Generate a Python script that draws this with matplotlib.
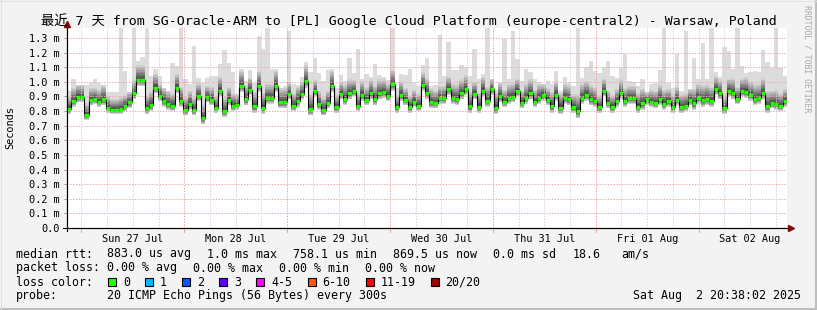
import matplotlib
matplotlib.use('Agg')
import matplotlib.pyplot as plt
from matplotlib.lines import Line2D
from matplotlib.patches import Rectangle
import numpy as np

plt.rcParams['font.family'] = ['DejaVu Sans Mono', 'Noto Sans CJK SC']

# median rtt per hour step (ms)
rtt_median = [
    0.814, 0.868, 0.898, 0.898, 0.773, 0.875, 0.882, 0.864, 0.88, 0.823, 0.81, 0.81, 0.814, 0.832,
    0.86, 0.92, 1.013, 1.013, 0.818, 0.84, 0.96, 0.905, 0.868, 0.848, 0.836, 0.96, 0.87, 0.807,
    0.848, 0.807, 0.905, 0.75, 0.893, 0.877, 0.823, 0.94, 0.80, 0.877, 0.836, 0.843, 0.973, 0.88,
    0.945, 0.832, 0.973, 0.823, 0.89, 0.89, 0.973, 0.86, 0.86, 0.915, 0.836, 0.87, 0.915, 1.005,
    0.814, 0.934, 0.848, 0.807, 0.855, 0.973, 0.825, 0.915, 0.882, 0.92, 0.934, 0.836, 0.91, 0.877,
    0.92, 0.88, 0.92, 0.927, 0.905, 0.982, 0.825, 0.91, 0.875, 0.825, 0.864, 0.836, 0.977, 0.923,
    0.86, 0.855, 0.886, 0.886, 0.948, 0.89, 0.882, 0.92, 0.95, 0.832, 0.915, 0.83, 0.94, 0.87,
    0.948, 0.823, 0.9, 0.864, 0.89, 0.898, 0.936, 0.855, 0.89, 0.92, 0.864, 0.89, 0.91, 0.875,
    0.832, 0.91, 0.823, 0.89, 0.88, 0.827, 0.798, 0.89, 0.91, 0.88, 0.868, 0.825, 0.936, 0.855,
    0.825, 0.866, 0.92, 0.868, 0.886, 0.886, 0.83, 0.852, 0.88, 0.864, 0.855, 0.882, 0.85, 0.866,
    0.827, 0.877, 0.827, 0.836, 0.875, 0.852, 0.89, 0.873, 0.882, 0.87, 0.948, 0.92, 0.818, 0.936,
    0.923, 0.884, 0.936, 0.932, 0.91, 0.882, 0.89, 0.923, 0.834, 0.855, 0.85, 0.836, 0.866,
]
# highest ping per step (ms)
rtt_max = [
    0.94, 1.02, 0.98, 0.98, 0.98, 0.995, 1.02, 0.99, 0.98, 0.93, 0.93, 0.93, 1.37, 1.075,
    0.93, 1.37, 1.14, 1.17, 1.37, 1.04, 1.09, 1.04, 0.96, 0.94, 1.13, 1.11, 1.37, 1.02,
    0.984, 1.245, 1.023, 0.995, 1.023, 1.041, 1.041, 1.12, 1.218, 1.132, 1.068, 0.916, 1.086, 1.007,
    1.082, 0.995, 1.314, 1.223, 1.37, 1.086, 1.086, 0.955, 0.973, 1.35, 0.984, 0.977, 1.03, 1.136,
    1.064, 1.161, 1.059, 1.007, 1.082, 1.086, 0.961, 1.045, 1.007, 1.166, 1.059, 1.223, 1.018, 1.052,
    1.036, 1.125, 1.048, 1.034, 1.011, 1.37, 0.961, 1.052, 1.048, 1.086, 0.995, 0.973, 1.114, 1.166,
    0.973, 0.977, 1.318, 1.041, 1.275, 1.08, 1.08, 1.114, 1.098, 1.041, 1.223, 1.018, 1.052, 1.37,
    1.018, 0.945, 0.995, 1.295, 1.018, 1.35, 1.155, 1.007, 1.086, 1.064, 1.018, 1.0, 0.984, 1.007,
    0.984, 1.075, 0.939, 1.03, 0.995, 0.973, 1.37, 1.023, 1.098, 1.143, 1.075, 1.059, 1.098, 1.139,
    1.041, 1.025, 1.091, 1.189, 1.007, 1.0, 0.973, 1.018, 0.927, 0.984, 0.995, 1.082, 1.37, 0.995,
    0.961, 1.189, 0.939, 1.35, 0.95, 1.166, 1.018, 1.268, 1.018, 1.37, 1.068, 1.03, 1.239, 1.211,
    1.086, 1.37, 1.109, 1.059, 1.068, 1.075, 1.064, 1.218, 1.136, 1.091, 1.37, 1.091, 1.041,
]
# lowest ping per step (ms)
rtt_min = [
    0.78, 0.83, 0.86, 0.86, 0.74, 0.84, 0.85, 0.83, 0.84, 0.79, 0.78, 0.78, 0.78, 0.80,
    0.82, 0.88, 0.97, 0.97, 0.78, 0.80, 0.92, 0.87, 0.83, 0.81, 0.80, 0.92, 0.83, 0.77,
    0.81, 0.77, 0.87, 0.71, 0.86, 0.84, 0.79, 0.90, 0.76, 0.84, 0.80, 0.81, 0.93, 0.84,
    0.91, 0.79, 0.93, 0.78, 0.85, 0.85, 0.93, 0.82, 0.82, 0.88, 0.80, 0.83, 0.88, 0.96,
    0.77, 0.90, 0.81, 0.77, 0.82, 0.93, 0.79, 0.88, 0.84, 0.88, 0.90, 0.80, 0.87, 0.84,
    0.88, 0.84, 0.88, 0.89, 0.87, 0.94, 0.79, 0.87, 0.84, 0.79, 0.83, 0.80, 0.94, 0.88,
    0.82, 0.82, 0.85, 0.85, 0.91, 0.85, 0.84, 0.88, 0.91, 0.79, 0.88, 0.79, 0.90, 0.83,
    0.91, 0.78, 0.86, 0.83, 0.85, 0.86, 0.90, 0.82, 0.85, 0.88, 0.83, 0.85, 0.87, 0.84,
    0.79, 0.87, 0.78, 0.85, 0.84, 0.79, 0.75, 0.85, 0.87, 0.84, 0.83, 0.79, 0.90, 0.82,
    0.79, 0.83, 0.88, 0.83, 0.85, 0.85, 0.79, 0.81, 0.84, 0.83, 0.82, 0.84, 0.81, 0.83,
    0.79, 0.84, 0.79, 0.80, 0.84, 0.81, 0.85, 0.83, 0.84, 0.83, 0.91, 0.88, 0.78, 0.90,
    0.88, 0.85, 0.90, 0.89, 0.87, 0.84, 0.85, 0.88, 0.79, 0.82, 0.81, 0.80, 0.83,
]

day_labels = ['Sun 27 Jul', 'Mon 28 Jul', 'Tue 29 Jul', 'Wed 30 Jul', 'Thu 31 Jul', 'Fri 01 Aug', 'Sat 02 Aug']
first_midnight = 3.366  # hours after graph start (Sat 26 Jul 20:38)
span_hours = 168
y_ticks = [0.0, 0.1, 0.2, 0.3, 0.4, 0.5, 0.6, 0.7, 0.8, 0.9, 1.0, 1.1, 1.2, 1.3]

loss_labels = ['0', '1', '2', '3', '4-5', '6-10', '11-19', '20/20']
loss_colors = ['#26ff00', '#00b8ff', '#0059ff', '#5e00ff', '#ff00ff', '#ff5500', '#ff0000', '#a10000']

W, H = 817, 310
def fx(x):
    return x / W
def fy(y):
    return 1 - y / H

fig = plt.figure(figsize=(W / 100, H / 100), dpi=100, facecolor='#f3f3f3')
ax = fig.add_axes([fx(67), fy(228), (787 - 67) / W, 200 / H])
ax.set_facecolor('white')

med = np.array(rtt_median)
hi = np.array(rtt_max)
lo = np.array(rtt_min)
n = min(len(med), len(hi), len(lo))
med, hi, lo = med[:n], hi[:n], lo[:n]
x = np.linspace(0, span_hours, n + 1)
ext = lambda a: np.append(a, a[-1])

# smoke
ax.fill_between(x, ext(lo), ext(hi), step='post', color='#dcdcdc', lw=0, zorder=1)
d_lo = med - lo
d_up = np.minimum(hi - med, 2.4 * d_lo)
nl = 10
for k in range(nl):
    f = (1 - k / nl) ** 1.15
    g = int(208 - k * (150 / (nl - 1)))
    c = '#%02x%02x%02x' % (g, g, g)
    ax.fill_between(x, ext(med - f * d_lo), ext(med + f * d_up), step='post', color=c, lw=0, zorder=1.5)

# grid
for v in y_ticks[1:]:
    ax.axhline(v, color='#f0a8a8', lw=0.72, ls=(0, (1.4, 1.4)), zorder=3)
for h in np.arange(first_midnight - 24, span_hours, 6):
    if h <= 0:
        continue
    major = abs((h - first_midnight) % 24) < 1e-6
    ax.axvline(h, color='#f0a0a0' if major else '#d4d4d4', lw=0.72, ls=(0, (1.4, 1.4)), zorder=3)

# median
ax.step(x, ext(med), where='post', color='black', lw=0.8, zorder=4)
ax.hlines(med, x[:-1], x[1:], color=loss_colors[0], lw=2.4, zorder=5, capstyle='butt')

ax.set_xlim(0, span_hours)
ax.set_ylim(0, 1.368)
ax.set_yticks(y_ticks)
ax.set_yticklabels(['0.0'] + ['%.1f m' % v for v in y_ticks[1:]])
ax.set_xticks([first_midnight + 12 + 24 * i for i in range(len(day_labels))])
ax.set_xticklabels(day_labels)
ax.tick_params(axis='y', length=2.5, width=0.7, color='#999999', pad=3, labelsize=7.4)
ax.tick_params(axis='x', length=0, pad=4.5, labelsize=7.4)
for s in ['top', 'right']:
    ax.spines[s].set_visible(False)
ax.spines['left'].set_linewidth(0.8)
ax.spines['bottom'].set_linewidth(0.8)

# day tick marks below axis
for d in range(7):
    hx = 67 + (first_midnight + 24 * d) / span_hours * 720
    fig.add_artist(Line2D([fx(hx), fx(hx)], [fy(228), fy(232)], color='#f0a0a0', lw=0.72))

# axis extensions and arrows
fig.add_artist(Line2D([fx(63), fx(791)], [fy(228), fy(228)], color='black', lw=0.8))
fig.add_artist(Line2D([fx(67), fx(67)], [fy(231), fy(24)], color='black', lw=0.8))
fig.add_artist(Line2D([fx(791)], [fy(228)], marker='>', ms=4, color='#8b0000', mec='#8b0000'))
fig.add_artist(Line2D([fx(67)], [fy(24)], marker='^', ms=4, color='#8b0000', mec='#8b0000'))

# titles
fig.text(0.5, fy(21), '最近 7 天 from SG-Oracle-ARM to [PL] Google Cloud Platform (europe-central2) - Warsaw, Poland',
         ha='center', va='center', fontsize=9.5)
fig.text(fx(10), fy(128), 'Seconds', rotation=90, ha='center', va='center', fontsize=7.4)
fig.text(fx(807), fy(59), 'RRDTOOL / TOBI OETIKER', rotation=270, ha='center', va='center',
         fontsize=5.9, color='#a8a8a8')

# legend lines
fs = 8.35
def t(xp, yp, s, **kw):
    fig.text(fx(xp), fy(yp), s, ha='left', va='center', fontsize=fs, **kw)

t(16, 254, 'median rtt:')
t(107.3, 254, '883.0 us avg')
t(207.3, 254, '1.0 ms max')
t(293.3, 254, '758.1 us min')
t(393, 254, '869.5 us now')
t(492.7, 254, '0.0 ms sd')
t(572.3, 254, '18.6')
t(621, 254, 'am/s')

t(16, 268, 'packet loss:')
t(107.3, 268, '0.00 % avg')
t(193.3, 268, '0.00 % max')
t(279.3, 268, '0.00 % min')
t(365.3, 268, '0.00 % now')

t(16, 282, 'loss color:')
box_x = [108.3, 145.3, 182.3, 219.3, 256.3, 307.5, 365.7, 430.7]
for bx, lab, col in zip(box_x, loss_labels, loss_colors):
    fig.add_artist(Rectangle((fx(bx), fy(286)), 8 / W, 8 / H, facecolor=col, edgecolor='black', lw=0.8))
    t(bx + 14.7, 282, lab)

t(16, 296, 'probe:')
t(107.3, 296, '20 ICMP Echo Pings (56 Bytes) every 300s')
t(633.3, 296, 'Sat Aug  2 20:38:02 2025')

# frame
fig.add_artist(Line2D([fx(815.5), fx(815.5)], [0, 1], color='#bdbdbd', lw=1.5))
fig.add_artist(Line2D([0, 1], [fy(308.5), fy(308.5)], color='#bdbdbd', lw=1.5))
fig.add_artist(Line2D([0, 1], [fy(0.5), fy(0.5)], color='#e2e2e2', lw=0.8))
fig.add_artist(Line2D([fx(0.5), fx(0.5)], [0, 1], color='#e2e2e2', lw=0.8))

plt.savefig('out.png', dpi=100, facecolor=fig.get_facecolor())
